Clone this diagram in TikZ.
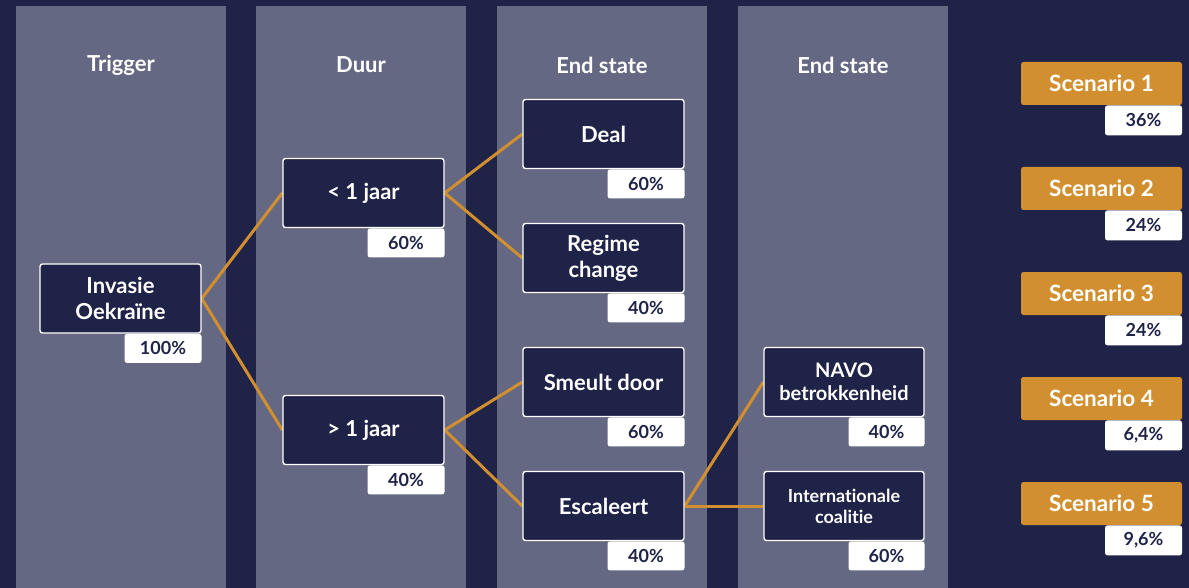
\documentclass[tikz,border=0pt]{standalone}
\usepackage{fontspec}
\setmainfont{Lato}[Ligatures={NoCommon}]
\usetikzlibrary{backgrounds}
\definecolor{navy}{HTML}{1F2348}
\definecolor{colgray}{HTML}{656882}
\definecolor{orng}{HTML}{D18F2F}
\tikzset{
  column/.style={fill=colgray, draw=none},
  header/.style={text=white, font=\fontsize{22}{26}\selectfont\bfseries, inner sep=0},
  box/.style={draw=white, line width=1.4pt, fill=navy, rounded corners=2.5pt, text=white,
    font=\fontsize{22}{26}\selectfont\bfseries, align=center, inner sep=0,
    minimum width=160, minimum height=69},
  smallbox/.style={box, font=\fontsize{18}{21}\selectfont\bfseries},
  midbox/.style={box, font=\fontsize{20}{23}\selectfont\bfseries},
  pct/.style={fill=white, rounded corners=2.5pt, text=navy, font=\fontsize{18}{20}\selectfont\bfseries,
    inner sep=0, minimum width=77, minimum height=29, anchor=north east},
  scen/.style={fill=orng, rounded corners=2.5pt, text=white, font=\fontsize{22.5}{26}\selectfont\bfseries,
    inner sep=0, minimum width=161, minimum height=43},
  link/.style={draw=orng, line width=3pt}
}
\begin{document}
\begin{tikzpicture}[x=1pt,y=-1pt]
\useasboundingbox (0,0) rectangle (1189,588);
\begin{scope}[on background layer]
  \fill[navy] (0,0) rectangle (1189,588);
  \fill[column] (16,6) rectangle (226,588);
  \fill[column] (256,6) rectangle (466,588);
  \fill[column] (497,6) rectangle (707,588);
  \fill[column] (738,6) rectangle (948,588);
\end{scope}
\node[header] (h1) at (121,65) {Trigger};
\node[header] (h2) at (361,65) {Duur};
\node[header] (h3) at (602,65) {End state};
\node[header] (h4) at (843,65) {End state};

\node[box, minimum width=161] (inv) at (120.5,298.5) {Invasie\\Oekraïne};
\node[pct] (pinv) at (inv.south east) {100\%};

\node[box, minimum width=161] (lt) at (363.5,193) {< 1 jaar};
\node[pct] (plt) at (lt.south east) {60\%};
\node[box, minimum width=161] (gt) at (363.5,430) {> 1 jaar};
\node[pct] (pgt) at (gt.south east) {40\%};

\node[box, minimum width=161] (deal) at (603.5,134) {Deal};
\node[pct] (pdeal) at (deal.south east) {60\%};
\node[box, minimum width=161] (reg) at (603.5,258) {Regime\\change};
\node[pct] (preg) at (reg.south east) {40\%};
\node[box, minimum width=161] (sme) at (603.5,382) {Smeult door};
\node[pct] (psme) at (sme.south east) {60\%};
\node[box, minimum width=161] (esc) at (603.5,506) {Escaleert};
\node[pct] (pesc) at (esc.south east) {40\%};

\node[midbox] (navo) at (844,382) {NAVO\\betrokkenheid};
\node[pct, minimum width=76] (pnavo) at (navo.south east) {40\%};
\node[smallbox] (intl) at (844,506) {Internationale\\coalitie};
\node[pct, minimum width=76] (pintl) at (intl.south east) {60\%};

\foreach \i/\y/\p in {1/83.5/36\%, 2/188.5/24\%, 3/293.5/24\%, 4/398.5/6{,}4\%, 5/503.5/9{,}6\%}{
  \node[scen] (s\i) at (1101.5,\y) {Scenario \i};
  \node[pct, minimum height=30] (ps\i) at (s\i.south east) {\p};
}

\begin{scope}[on background layer]
  \draw[link] (inv.east) -- (lt.west);
  \draw[link] (inv.east) -- (gt.west);
  \draw[link] (lt.east) -- (deal.west);
  \draw[link] (lt.east) -- (reg.west);
  \draw[link] (gt.east) -- (sme.west);
  \draw[link] (gt.east) -- (esc.west);
  \draw[link] (esc.east) -- (navo.west);
  \draw[link] (esc.east) -- (intl.west);
\end{scope}
\end{tikzpicture}
\end{document}
